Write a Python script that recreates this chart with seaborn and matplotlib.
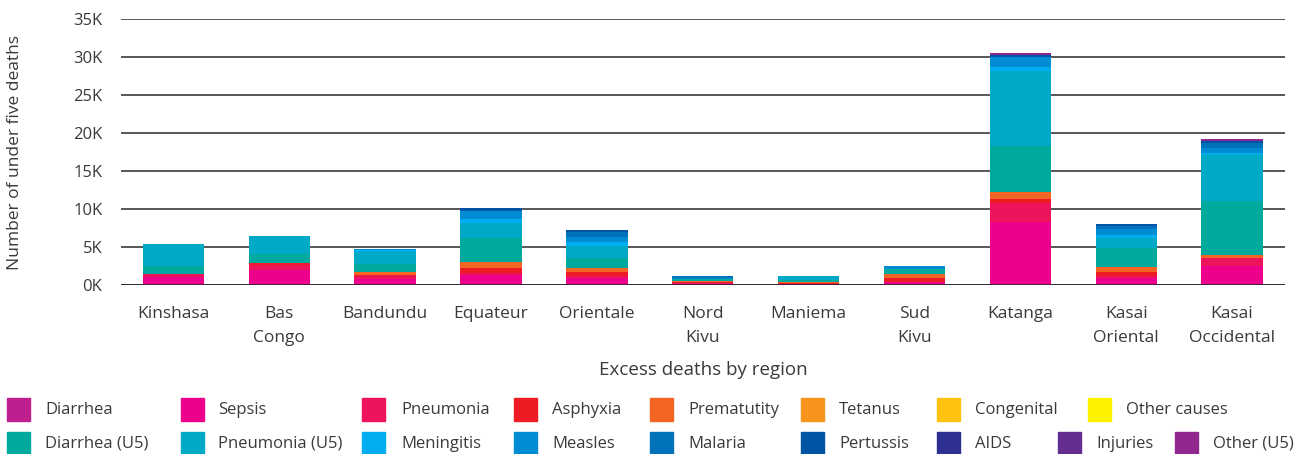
import numpy as np
import matplotlib
matplotlib.use("Agg")
import matplotlib.pyplot as plt
from matplotlib.patches import Rectangle
from matplotlib.ticker import FuncFormatter
import seaborn as sns

# regions (x categories)
regions = ["Kinshasa", "Bas\nCongo", "Bandundu", "Equateur", "Orientale", "Nord\nKivu",
           "Maniema", "Sud\nKivu", "Katanga", "Kasai\nOriental", "Kasai\nOccidental"]

# causes, in legend order (also the stacking order, bottom to top)
causes = ["Diarrhea", "Sepsis", "Pneumonia", "Asphyxia", "Prematutity", "Tetanus",
          "Congenital", "Other causes", "Diarrhea (U5)", "Pneumonia (U5)", "Meningitis",
          "Measles", "Malaria", "Pertussis", "AIDS", "Injuries", "Other (U5)"]
cause_colors = ["#BF1E8E", "#EC008C", "#ED145B", "#ED1C24", "#F26522", "#F7941D",
                "#FFC20E", "#FFF200", "#00A99D", "#00AAC6", "#00AEEF", "#008CD2",
                "#0072BC", "#0054A6", "#2E3192", "#662D91", "#92278F"]

# excess deaths by region, one list per cause
diarrhea       = [0, 0, 0, 0, 0, 0, 0, 0, 0, 0, 0]
sepsis         = [1000, 2000, 800, 1270, 880, 150, 100, 440, 8330, 880, 2500]
pneumonia      = [400, 570, 350, 300, 300, 100, 0, 0, 2500, 350, 1050]
asphyxia       = [0, 350, 180, 700, 570, 150, 200, 440, 530, 440, 0]
prematurity    = [0, 0, 350, 700, 530, 180, 50, 530, 830, 700, 400]
tetanus        = [0, 0, 0, 0, 0, 0, 0, 0, 0, 0, 0]
congenital     = [0, 0, 0, 0, 0, 0, 0, 0, 0, 0, 0]
other_causes   = [0, 0, 0, 0, 0, 0, 0, 0, 0, 0, 0]
diarrhea_u5    = [1150, 1180, 1100, 3160, 1320, 200, 350, 750, 6140, 2460, 7100]
pneumonia_u5   = [2900, 2370, 1600, 2060, 1580, 50, 450, 0, 9870, 1360, 6050]
meningitis     = [0, 0, 180, 530, 440, 0, 0, 0, 440, 440, 260]
measles        = [0, 0, 180, 1050, 750, 100, 0, 350, 1400, 700, 660]
malaria        = [0, 0, 0, 0, 570, 200, 0, 0, 0, 400, 660]
pertussis      = [0, 0, 0, 400, 350, 0, 0, 0, 260, 260, 260]
aids           = [0, 0, 0, 0, 0, 0, 0, 0, 0, 0, 0]
injuries       = [0, 0, 0, 0, 0, 0, 0, 0, 0, 0, 0]
other_u5       = [0, 0, 0, 0, 0, 0, 0, 0, 260, 0, 260]

series = [diarrhea, sepsis, pneumonia, asphyxia, prematurity, tetanus, congenital,
          other_causes, diarrhea_u5, pneumonia_u5, meningitis, measles, malaria,
          pertussis, aids, injuries, other_u5]

sns.set_theme(style="white")
plt.rcParams["font.family"] = ["Open Sans", "DejaVu Sans"]
TXT = "#3a3a3a"

W, H = 1306, 454
fig = plt.figure(figsize=(W / 100, H / 100), dpi=100)
ax = fig.add_axes([120.5 / W, 1 - 285 / H, (1285 - 120.5) / W, (285 - 19) / H])

# stacked bars: draw cumulative totals from the top layer down
cum = np.cumsum(np.array(series), axis=0)
for i in range(len(series) - 1, -1, -1):
    sns.barplot(x=regions, y=cum[i], order=regions, color=cause_colors[i],
                saturation=1, width=0.58, ax=ax, zorder=2,
                linewidth=0, edgecolor="none")

ax.set_xlim(-0.5, len(regions) - 0.5)
ax.set_ylim(0, 35000)
ax.set_yticks(np.arange(0, 35001, 5000))
ax.yaxis.set_major_formatter(FuncFormatter(lambda v, p: f"{int(v / 1000)}K"))
ax.yaxis.grid(True, color="#4a4a4a", lw=1.3)
ax.set_axisbelow(True)
ax.axhline(0, color="#222222", lw=1.8, zorder=3)
sns.despine(ax=ax, left=True, bottom=True)
ax.tick_params(axis="y", length=0, pad=13, labelsize=12, labelcolor=TXT)
ax.tick_params(axis="x", length=0, pad=15, labelsize=12.5, labelcolor=TXT)
for t in ax.get_xticklabels():
    t.set_linespacing(1.65)
ax.set_xlabel("")
ax.set_ylabel("")

fig.text(15 / W, 1 - 152 / H, "Number of under five deaths", rotation=90,
         ha="center", va="center", fontsize=12.5, color=TXT)
fig.text(703 / W, 1 - 370 / H, "Excess deaths by region", ha="center", va="center",
         fontsize=13.5, color=TXT)

# legend laid out like the original (two rows)
row1 = [(7, 45), (181, 218), (362, 401), (514, 552), (650, 688), (801, 839), (937, 975), (1088, 1126)]
row2 = [(7, 45), (181, 218), (362, 401), (514, 552), (650, 688), (801, 839), (937, 975), (1058, 1096), (1175, 1213)]
slots = [(p, 398) for p in row1] + [(p, 432) for p in row2]
for k, ((sx, tx), top) in enumerate(slots):
    fig.patches.append(Rectangle((sx / W, 1 - (top + 23) / H), 23 / W, 23 / H,
                                 transform=fig.transFigure, color=cause_colors[k]))
    fig.text(tx / W, 1 - (top + 12) / H, causes[k], ha="left", va="center",
             fontsize=12, color=TXT)

fig.savefig("out.png", dpi=100)
